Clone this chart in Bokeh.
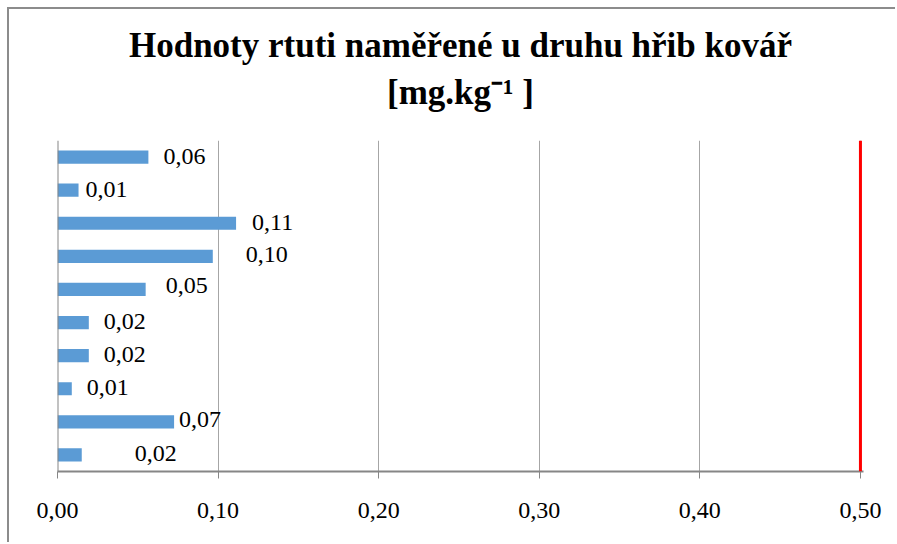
from bokeh.plotting import figure
from bokeh.models import FactorRange, Range1d, FixedTicker, Span, ColumnDataSource, Title
from bokeh.core.properties import value
from bokeh.embed import file_html
from bokeh.resources import INLINE

# Data (bottom to top, as in the source chart)
samples = ["1", "2", "3", "4", "5", "6", "7", "8", "9", "10"]
mercury = [0.0151, 0.0726, 0.0089, 0.0195, 0.0195, 0.0549, 0.0967, 0.1112, 0.0131, 0.0566]
limit = 0.5
x_ticks = [0.0, 0.1, 0.2, 0.3, 0.4, 0.5]
x_tick_labels = ["0,00", "0,10", "0,20", "0,30", "0,40", "0,50"]
title_line1 = "Hodnoty rtuti naměřené u druhu hřib kovář"
title_line2 = "[mg.kg\u207b\u00b9 ]"

# label placement offsets (screen px), style only
label_dx = [53, 5, 15, 15, 15, 20, 33, 16, 7, 15]
label_dy = [-1, -2, -1, -1, -1, -4, -2, -1, -1, -1]

labels = [("%.2f" % v).replace(".", ",") for v in mercury]

src = ColumnDataSource(dict(y=samples, v=mercury, lab=labels, dx=label_dx, dy=label_dy))

FONT = "'Liberation Serif', 'Times New Roman', serif"

W, H = 888, 535
p = figure(width=W, height=H, output_backend="svg", toolbar_location=None,
           y_range=FactorRange(factors=samples, range_padding=0),
           x_range=Range1d(0, 0.5019),
           min_border_left=48, min_border_right=34, min_border_top=131, min_border_bottom=73)
p.styles = {"margin-left": "7px", "margin-top": "7px",
            "border-left": "2px solid #8c8c8c", "border-top": "2px solid #8c8c8c"}
p.outline_line_color = None
p.background_fill_color = "white"
p.border_fill_color = "white"

# title: spacer (closest to plot), second line, then first line (outermost)
p.add_layout(Title(text=" ", text_font=FONT, text_font_size="2px", standoff=25), "above")
p.add_layout(Title(text=title_line2, text_font=FONT, text_font_size="35px",
                   text_font_style="bold", text_color="black", align="center",
                   standoff=0), "above")
p.title.text = title_line1
p.title.text_font = FONT
p.title.text_font_size = "35px"
p.title.text_font_style = "bold"
p.title.text_color = "black"
p.title.align = "center"
p.title.standoff = 11

p.hbar(y="y", right="v", left=0, height=0.4, source=src, color="#5b9bd5", line_color=None)
p.text(x="v", y="y", text="lab", source=src, x_offset="dx", y_offset="dy",
       text_font=value(FONT), text_font_size="24px", text_baseline="middle",
       text_align="left", text_color="black")

# left axis line and limit line
p.add_layout(Span(location=0, dimension="height", line_color="#868686", line_width=2))
p.add_layout(Span(location=limit, dimension="height", line_color="#ff0000", line_width=3))

# x axis
p.xaxis.ticker = FixedTicker(ticks=x_ticks)
p.xaxis.major_label_overrides = {t: l for t, l in zip(x_ticks, x_tick_labels)}
p.xaxis.major_label_text_font = FONT
p.xaxis.major_label_text_font_size = "24px"
p.xaxis.major_label_text_color = "black"
p.xaxis.major_label_standoff = 24
p.xaxis.axis_line_color = "#868686"
p.xaxis.axis_line_width = 2
p.xaxis.major_tick_line_color = "#868686"
p.xaxis.major_tick_in = 0
p.xaxis.major_tick_out = 7
p.xaxis.minor_tick_line_color = None

p.yaxis.visible = False

p.xgrid.ticker = FixedTicker(ticks=x_ticks[1:])
p.xgrid.grid_line_color = "#a6a6a6"
p.ygrid.grid_line_color = None

open("out.html", "w").write(file_html(p, INLINE))
